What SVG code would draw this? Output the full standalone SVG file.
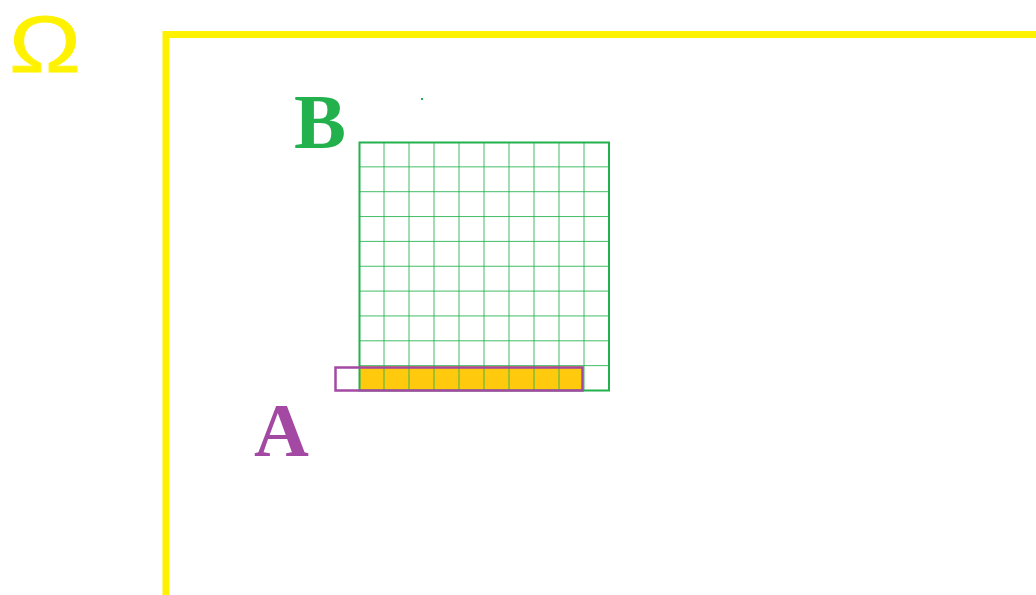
<svg xmlns="http://www.w3.org/2000/svg" width="1036" height="595" viewBox="0 0 1036 595">
<style>
.grid{stroke:#22B14C;stroke-width:1;fill:none;opacity:0.85}
.outer{stroke:#22B14C;stroke-width:2;fill:none}
.lbl{font-family:"Liberation Serif",serif;font-weight:bold}
</style>
<rect width="1036" height="595" fill="#fff"/>
<g id="omega">
<text x="45" y="72" text-anchor="middle" font-family="Liberation Sans, sans-serif" font-size="79" fill="#FFF200" stroke="#FFF200" stroke-width="0.8" textLength="72" lengthAdjust="spacingAndGlyphs">Ω</text>
</g>
<g id="frame">
<path d="M166 600 V34.5 H1040" fill="none" stroke="#FFF200" stroke-width="7"/>
</g>
<g id="A-set">
<rect x="359" y="366" width="224" height="24.5" fill="#FFC90E"/>
</g>
<g id="B-grid">
<path class="grid" d="M384 142V390.5M409 142V390.5M434 142V390.5M459 142V390.5M484 142V390.5M509 142V390.5M534 142V390.5M559 142V390.5M584 142V390.5M359 166.85H609M359 191.7H609M359 216.55H609M359 241.4H609M359 266.25H609M359 291.1H609M359 315.95H609M359 340.8H609M359 365.65H609"/>
<rect class="outer" x="359.5" y="142.5" width="249.5" height="248"/>
</g>
<g id="A-rect">
<rect x="335.5" y="367.5" width="247" height="23" fill="none" stroke="#A349A4" stroke-width="2.5"/>
</g>
<rect x="421" y="98" width="2" height="2" fill="#22B14C"/>
<g id="label-B">
<text class="lbl" x="294" y="148" font-size="78" fill="#22B14C">B</text>
</g>
<g id="label-A">
<text class="lbl" x="254" y="456" font-size="76" fill="#A349A4">A</text>
</g>
</svg>
